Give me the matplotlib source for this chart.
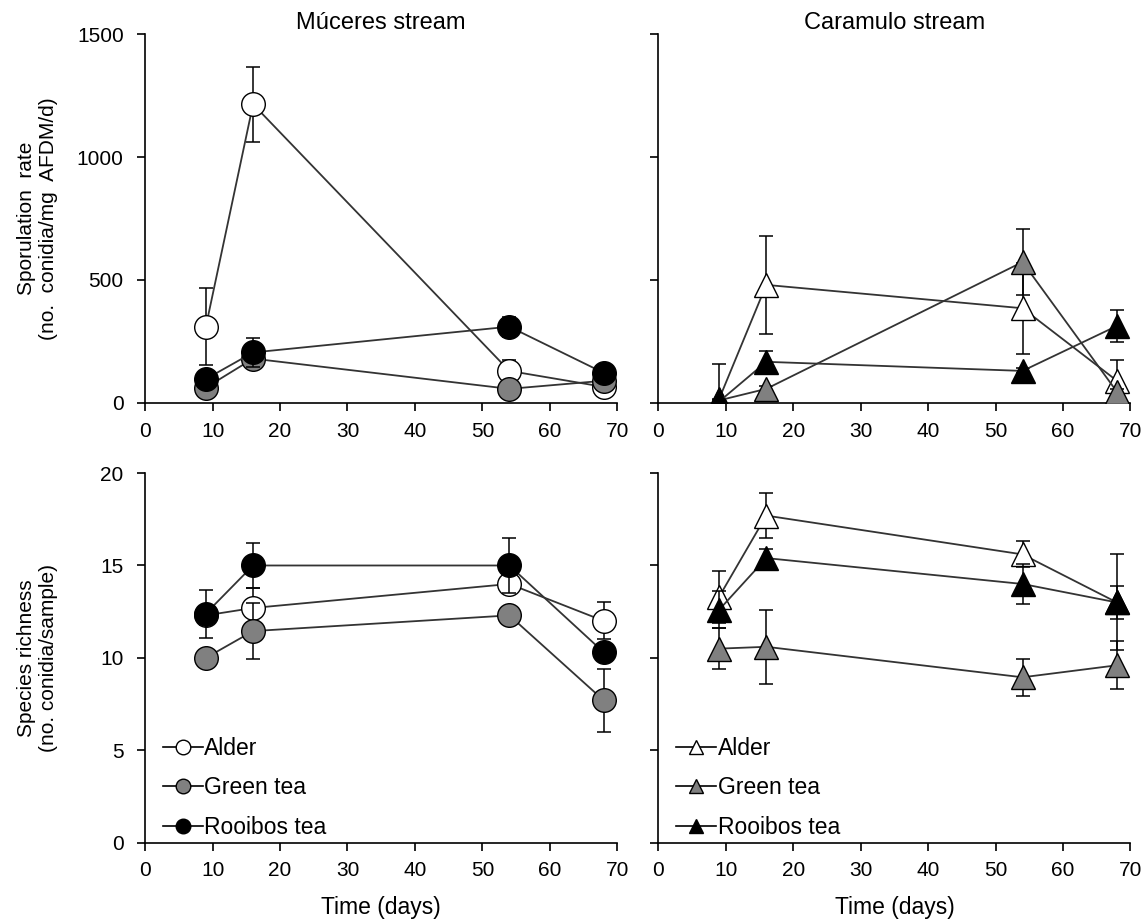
import matplotlib
matplotlib.use("Agg")
import matplotlib.pyplot as plt
from matplotlib.lines import Line2D

plt.rcParams["font.family"] = ["Liberation Sans", "DejaVu Sans"]

# ── data ────────────────────────────────────────────────────────────
days = [9, 16, 54, 68]
series = ["Alder", "Green tea", "Rooibos tea"]
fills = ["white", "#808080", "black"]

# sporulation rate (no. conidia/mg AFDM/d)
spor_muceres = {
    "Alder": [310, 1215, 130, 65],
    "Green tea": [62, 180, 57, 90],
    "Rooibos tea": [97, 205, 310, 122],
}
spor_muceres_err = {
    "Alder": [157, 152, 45, 20],
    "Green tea": [15, 20, 15, 15],
    "Rooibos tea": [20, 60, 40, 25],
}
spor_caramulo = {
    "Alder": [15, 480, 385, 90],
    "Green tea": [10, 57, 573, 45],
    "Rooibos tea": [5, 167, 130, 313],
}
spor_caramulo_err = {
    "Alder": [145, 200, 185, 85],
    "Green tea": [5, 10, 135, 10],
    "Rooibos tea": [5, 45, 10, 65],
}

# species richness (no. conidia/sample)
rich_muceres = {
    "Alder": [12.3, 12.7, 14.0, 12.0],
    "Green tea": [10.0, 11.45, 12.3, 7.7],
    "Rooibos tea": [12.4, 15.0, 15.0, 10.3],
}
rich_muceres_err = {
    "Alder": [0.5, 1.1, 0.5, 1.0],
    "Green tea": [0.3, 1.5, 0.3, 1.7],
    "Rooibos tea": [1.3, 1.2, 1.5, 0.3],
}
rich_caramulo = {
    "Alder": [13.3, 17.7, 15.6, 13.0],
    "Green tea": [10.5, 10.6, 8.95, 9.6],
    "Rooibos tea": [12.6, 15.4, 14.0, 13.0],
}
rich_caramulo_err = {
    "Alder": [1.4, 1.2, 0.7, 0.9],
    "Green tea": [1.1, 2.0, 1.0, 1.3],
    "Rooibos tea": [1.0, 0.5, 1.1, 2.6],
}

fig = plt.figure(figsize=(11.43, 9.24), dpi=100)
ax_tl = fig.add_axes([0.127, 0.564, 0.413, 0.399])
ax_tr = fig.add_axes([0.576, 0.564, 0.413, 0.399])
ax_bl = fig.add_axes([0.127, 0.088, 0.413, 0.400])
ax_br = fig.add_axes([0.576, 0.088, 0.413, 0.400])


def draw_panel(ax, vals, errs, marker, ylim, yticks, ms):
    for i, (name, fc) in enumerate(zip(series, fills)):
        ax.errorbar(days, vals[name], yerr=errs[name], fmt="none",
                    ecolor="black", elinewidth=1.1, capsize=5, capthick=1.1,
                    zorder=2 + i * 2)
        ax.plot(days, vals[name], color="#333333", linewidth=1.3,
                marker=marker, markersize=ms, markerfacecolor=fc,
                markeredgecolor="black", markeredgewidth=1.0,
                zorder=3 + i * 2)
    ax.set_xlim(0, 70)
    ax.set_ylim(*ylim)
    ax.set_xticks(range(0, 71, 10))
    ax.set_yticks(yticks)
    for s in ["top", "right"]:
        ax.spines[s].set_visible(False)
    for s in ["left", "bottom"]:
        ax.spines[s].set_linewidth(1.2)
    ax.tick_params(direction="out", length=5.5, width=1.2, labelsize=15,
                   colors="black")
    ax.tick_params(axis="x", pad=8)
    ax.tick_params(axis="y", pad=10)


draw_panel(ax_tl, spor_muceres, spor_muceres_err, "o", (0, 1500), [0, 500, 1000, 1500], 17)
draw_panel(ax_tr, spor_caramulo, spor_caramulo_err, "^", (0, 1500), [0, 500, 1000, 1500], 17)
draw_panel(ax_bl, rich_muceres, rich_muceres_err, "o", (0, 20), [0, 5, 10, 15, 20], 17)
draw_panel(ax_br, rich_caramulo, rich_caramulo_err, "^", (0, 20), [0, 5, 10, 15, 20], 17)

ax_tr.set_yticklabels([])
ax_br.set_yticklabels([])

ax_tl.set_title("Múceres stream", fontsize=17, pad=2)
ax_tr.set_title("Caramulo stream", fontsize=17, pad=2)
ax_tl.set_ylabel("Sporulation  rate\n(no.  conidia/mg  AFDM/d)", fontsize=15)
ax_bl.set_ylabel("Species richness\n(no. conidia/sample)", fontsize=15)
ax_tl.yaxis.set_label_coords(-0.185, 0.5)
ax_bl.yaxis.set_label_coords(-0.185, 0.5)
for ax in (ax_bl, ax_br):
    ax.set_xlabel("Time (days)", fontsize=16.5)
    ax.xaxis.set_label_coords(0.5, -0.145)

for ax, marker in [(ax_bl, "o"), (ax_br, "^")]:
    handles = [Line2D([], [], color="black", linewidth=1.2, marker=marker,
                      markersize=10.5, markerfacecolor=fc, markeredgecolor="black")
               for fc in fills]
    ax.legend(handles, series, loc="lower left", frameon=False, fontsize=16.5,
              handlelength=1.75, handletextpad=0.05, labelspacing=0.72,
              borderpad=0, borderaxespad=0, bbox_to_anchor=(0.038, 0.01))

fig.savefig("out.png", dpi=100)
